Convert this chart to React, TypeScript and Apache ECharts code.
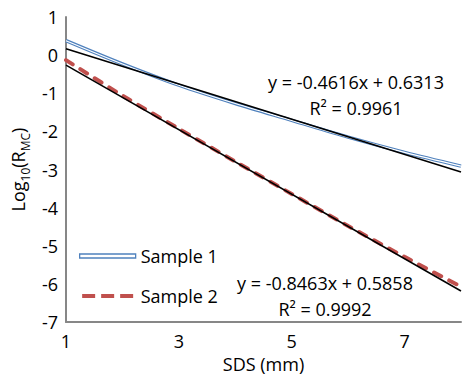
import React, { useEffect, useRef } from "react";
import * as echarts from "echarts";

const sdsValues = [1, 2, 3, 4, 5, 6, 7, 8];
const sample1 = [0.38, -0.23, -0.79, -1.27, -1.71, -2.15, -2.55, -2.91];
const sample2 = [-0.13, -1.06, -1.93, -2.79, -3.64, -4.48, -5.29, -6.07];
const trendX = [1, 8];
const trend1 = [0.1697, -3.0615];
const trend2 = [-0.2605, -6.1846];
const eq1 = ["y = -0.4616x + 0.6313", "R² = 0.9961"];
const eq2 = ["y = -0.8463x + 0.5858", "R² = 0.9992"];
const seriesNames = ["Sample 1", "Sample 2"];

const FONT = "Open Sans";
const FS = 18;

export default function App() {
  const ref = useRef<HTMLDivElement>(null);
  useEffect(() => {
    if (!ref.current) return;
    const chart = echarts.init(ref.current, undefined, { renderer: "svg" });
    const pts = (ys: number[], xs: number[]) => xs.map((x, i) => [x, ys[i]]);
    chart.setOption({
      animation: false,
      backgroundColor: "#fff",
      textStyle: { fontFamily: FONT },
      grid: { left: 66, right: -1, top: 17, bottom: 52 },
      xAxis: {
        type: "value",
        min: 1,
        max: 8,
        interval: 1,
        name: "SDS (mm)",
        nameLocation: "middle",
        nameGap: 29,
        nameTextStyle: { fontSize: FS, color: "#000", fontFamily: FONT },
        axisLine: { onZero: false, lineStyle: { color: "#878787", width: 2 } },
        axisTick: { show: false },
        splitLine: { show: false },
        axisLabel: {
          fontSize: FS,
          color: "#000",
          fontFamily: FONT,
          margin: 10,
          formatter: (v: number) => (v % 2 === 1 ? String(v) : ""),
        },
      },
      yAxis: {
        type: "value",
        min: -7,
        max: 1,
        interval: 1,
        name: "{n|Log}{s|10}{n|(R}{s|MC}{n|)}",
        nameLocation: "middle",
        nameGap: 34,
        nameTextStyle: {
          rich: {
            n: { fontSize: FS, color: "#000", fontFamily: FONT, lineHeight: 26, verticalAlign: "middle" },
            s: { fontSize: 12, color: "#000", fontFamily: FONT, lineHeight: 26, verticalAlign: "bottom" },
          },
        },
        axisLine: { show: true, onZero: false, lineStyle: { color: "#878787", width: 2 } },
        axisTick: { show: false },
        splitLine: { show: false },
        axisLabel: { fontSize: FS, color: "#000", fontFamily: FONT, margin: 8 },
      },
      legend: {
        orient: "vertical",
        left: 74,
        top: 242,
        itemWidth: 56,
        itemHeight: 4,
        itemGap: 22,
        textStyle: { fontSize: FS, color: "#000", fontFamily: FONT },
        data: [
          {
            name: seriesNames[0],
            icon: "rect",
            itemStyle: { color: "#fff", borderColor: "#4F81BD", borderWidth: 1.3 },
          },
          {
            name: seriesNames[1],
            icon: "path://M0,0h13v4h-13z M19,0h13v4h-13z M38,0h13v4h-13z",
            itemStyle: { color: "#C0504D" },
          },
        ],
      },
      series: [
        {
          name: seriesNames[0],
          type: "line",
          data: pts(sample1, sdsValues),
          smooth: 0.3,
          showSymbol: false,
          symbol: "none",
          itemStyle: { color: "#4F81BD" },
          lineStyle: { color: "#4F81BD", width: 3.4 },
          z: 2,
        },
        {
          name: "Sample 1 inner",
          type: "line",
          data: pts(sample1, sdsValues),
          smooth: 0.3,
          showSymbol: false,
          symbol: "none",
          lineStyle: { color: "#fff", width: 1.1 },
          z: 3,
        },
        {
          name: seriesNames[1],
          type: "line",
          data: pts(sample2, sdsValues),
          smooth: 0.3,
          showSymbol: false,
          symbol: "none",
          itemStyle: { color: "#C0504D" },
          lineStyle: { color: "#C0504D", width: 4, type: [8, 9], cap: "round" },
          z: 2,
        },
        {
          name: "Trend 1",
          type: "line",
          data: pts(trend1, trendX),
          showSymbol: false,
          symbol: "none",
          lineStyle: { color: "#000", width: 1.6 },
          z: 4,
        },
        {
          name: "Trend 2",
          type: "line",
          data: pts(trend2, trendX),
          showSymbol: false,
          symbol: "none",
          lineStyle: { color: "#000", width: 1.6 },
          z: 4,
        },
      ],
      graphic: [
        { type: "text", x: 356, y: 82, style: { text: eq1[0], fill: "#000", font: `${FS}px "${FONT}"`, textAlign: "center", textVerticalAlign: "middle" } },
        { type: "text", x: 356, y: 108, style: { text: eq1[1], fill: "#000", font: `${FS}px "${FONT}"`, textAlign: "center", textVerticalAlign: "middle" } },
        { type: "text", x: 325, y: 283, style: { text: eq2[0], fill: "#000", font: `${FS}px "${FONT}"`, textAlign: "center", textVerticalAlign: "middle" } },
        { type: "text", x: 325, y: 309, style: { text: eq2[1], fill: "#000", font: `${FS}px "${FONT}"`, textAlign: "center", textVerticalAlign: "middle" } },
      ],
    });
    return () => chart.dispose();
  }, []);
  return <div ref={ref} style={{ width: 464, height: 378, position: "absolute", left: 0, top: 0 }} />;
}
